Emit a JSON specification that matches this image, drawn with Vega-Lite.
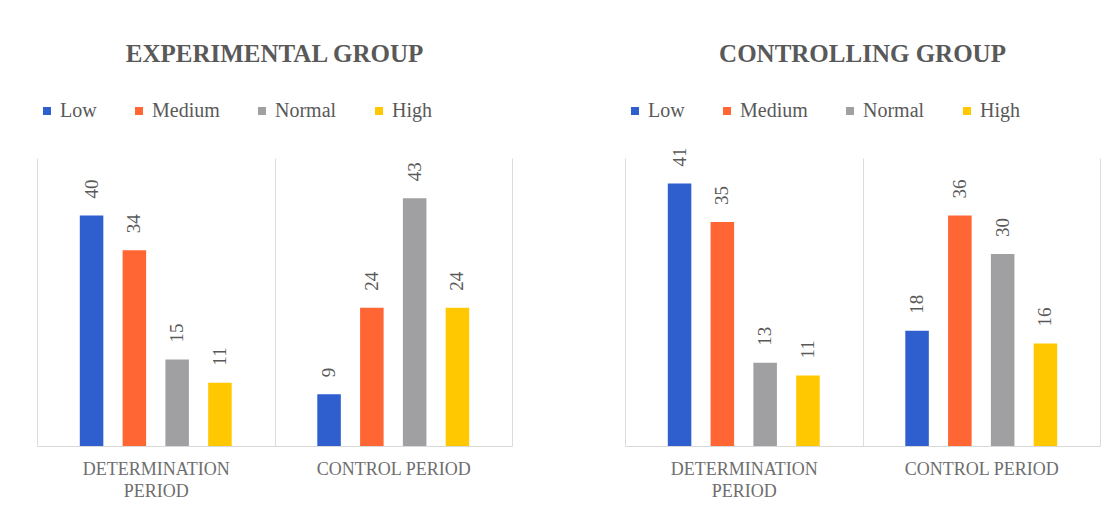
{
  "$schema": "https://vega.github.io/schema/vega-lite/v6.json",
  "padding": {"left": 37, "top": 42, "right": 5, "bottom": 5},
  "background": "white",
  "spacing": 113,
  "data": {"values": [
    {"group": "EXPERIMENTAL GROUP", "period": "DETERMINATION PERIOD", "level": "Low", "value": 40},
    {"group": "EXPERIMENTAL GROUP", "period": "DETERMINATION PERIOD", "level": "Medium", "value": 34},
    {"group": "EXPERIMENTAL GROUP", "period": "DETERMINATION PERIOD", "level": "Normal", "value": 15},
    {"group": "EXPERIMENTAL GROUP", "period": "DETERMINATION PERIOD", "level": "High", "value": 11},
    {"group": "EXPERIMENTAL GROUP", "period": "CONTROL PERIOD", "level": "Low", "value": 9},
    {"group": "EXPERIMENTAL GROUP", "period": "CONTROL PERIOD", "level": "Medium", "value": 24},
    {"group": "EXPERIMENTAL GROUP", "period": "CONTROL PERIOD", "level": "Normal", "value": 43},
    {"group": "EXPERIMENTAL GROUP", "period": "CONTROL PERIOD", "level": "High", "value": 24},
    {"group": "CONTROLLING GROUP", "period": "DETERMINATION PERIOD", "level": "Low", "value": 41},
    {"group": "CONTROLLING GROUP", "period": "DETERMINATION PERIOD", "level": "Medium", "value": 35},
    {"group": "CONTROLLING GROUP", "period": "DETERMINATION PERIOD", "level": "Normal", "value": 13},
    {"group": "CONTROLLING GROUP", "period": "DETERMINATION PERIOD", "level": "High", "value": 11},
    {"group": "CONTROLLING GROUP", "period": "CONTROL PERIOD", "level": "Low", "value": 18},
    {"group": "CONTROLLING GROUP", "period": "CONTROL PERIOD", "level": "Medium", "value": 36},
    {"group": "CONTROLLING GROUP", "period": "CONTROL PERIOD", "level": "Normal", "value": 30},
    {"group": "CONTROLLING GROUP", "period": "CONTROL PERIOD", "level": "High", "value": 16}
  ]},
  "config": {
    "view": {"stroke": null},
    "font": "Liberation Serif"
  },
  "resolve": {"scale": {"color": "independent"}},
  "hconcat": [
    {
      "width": 475,
      "height": 288,
      "title": {"text": "EXPERIMENTAL GROUP", "font": "Liberation Serif", "fontSize": 25, "fontWeight": "bold", "color": "#595959", "anchor": "middle", "offset": 34},
      "transform": [{"filter": "datum.group == 'EXPERIMENTAL GROUP'"}],
      "encoding": {
        "x": {
          "field": "period", "type": "nominal",
          "scale": {"domain": ["DETERMINATION PERIOD", "CONTROL PERIOD"], "paddingInner": 0, "paddingOuter": 0},
          "axis": {"title": null, "domain": true, "domainColor": "#d9d9d9", "ticks": false, "grid": true, "gridColor": "#dcdcdc", "tickBand": "extent", "labelAngle": 0, "labelFont": "Liberation Serif", "labelFontSize": 18, "labelColor": "#6e6e6e", "labelPadding": 14, "labelLineHeight": 22, "labelLimit": 400, "labelOverlap": false, "labelExpr": "datum.value == 'DETERMINATION PERIOD' ? ['DETERMINATION', 'PERIOD'] : datum.label"}
        },
        "xOffset": {"field": "level", "type": "nominal", "scale": {"domain": ["Low", "Medium", "Normal", "High"], "paddingInner": 0.45, "paddingOuter": 1.17}},
        "y": {"field": "value", "type": "quantitative", "scale": {"domain": [0, 50], "nice": false}, "axis": null}
      },
      "layer": [
        {
          "mark": {"type": "bar"},
          "encoding": {
            "color": {
              "field": "level", "type": "nominal",
              "scale": {"domain": ["Low", "Medium", "Normal", "High"], "range": ["#2f5fce", "#ff6633", "#a0a0a2", "#ffc800"]},
              "legend": {"orient": "top", "direction": "horizontal", "title": null, "symbolType": "square", "symbolSize": 64, "symbolStrokeWidth": 0, "labelFont": "Liberation Serif", "labelFontSize": 20, "labelColor": "#595959", "columnPadding": 32, "labelOffset": 3, "offset": 37}
            }
          }
        },
        {
          "mark": {"type": "text", "angle": 270, "align": "left", "baseline": "middle", "dx": 17, "font": "Liberation Serif", "fontSize": 19, "color": "#595959"},
          "encoding": {
            "text": {"field": "value", "type": "quantitative"}
          }
        }
      ]
    },
    {
      "width": 475,
      "height": 288,
      "title": {"text": "CONTROLLING GROUP", "font": "Liberation Serif", "fontSize": 25, "fontWeight": "bold", "color": "#595959", "anchor": "middle", "offset": 34},
      "transform": [{"filter": "datum.group == 'CONTROLLING GROUP'"}],
      "encoding": {
        "x": {
          "field": "period", "type": "nominal",
          "scale": {"domain": ["DETERMINATION PERIOD", "CONTROL PERIOD"], "paddingInner": 0, "paddingOuter": 0},
          "axis": {"title": null, "domain": true, "domainColor": "#d9d9d9", "ticks": false, "grid": true, "gridColor": "#dcdcdc", "tickBand": "extent", "labelAngle": 0, "labelFont": "Liberation Serif", "labelFontSize": 18, "labelColor": "#6e6e6e", "labelPadding": 14, "labelLineHeight": 22, "labelLimit": 400, "labelOverlap": false, "labelExpr": "datum.value == 'DETERMINATION PERIOD' ? ['DETERMINATION', 'PERIOD'] : datum.label"}
        },
        "xOffset": {"field": "level", "type": "nominal", "scale": {"domain": ["Low", "Medium", "Normal", "High"], "paddingInner": 0.45, "paddingOuter": 1.17}},
        "y": {"field": "value", "type": "quantitative", "scale": {"domain": [0, 45], "nice": false}, "axis": null}
      },
      "layer": [
        {
          "mark": {"type": "bar"},
          "encoding": {
            "color": {
              "field": "level", "type": "nominal",
              "scale": {"domain": ["Low", "Medium", "Normal", "High"], "range": ["#2f5fce", "#ff6633", "#a0a0a2", "#ffc800"]},
              "legend": {"orient": "top", "direction": "horizontal", "title": null, "symbolType": "square", "symbolSize": 64, "symbolStrokeWidth": 0, "labelFont": "Liberation Serif", "labelFontSize": 20, "labelColor": "#595959", "columnPadding": 32, "labelOffset": 3, "offset": 37}
            }
          }
        },
        {
          "mark": {"type": "text", "angle": 270, "align": "left", "baseline": "middle", "dx": 17, "font": "Liberation Serif", "fontSize": 19, "color": "#595959"},
          "encoding": {
            "text": {"field": "value", "type": "quantitative"}
          }
        }
      ]
    }
  ]
}
